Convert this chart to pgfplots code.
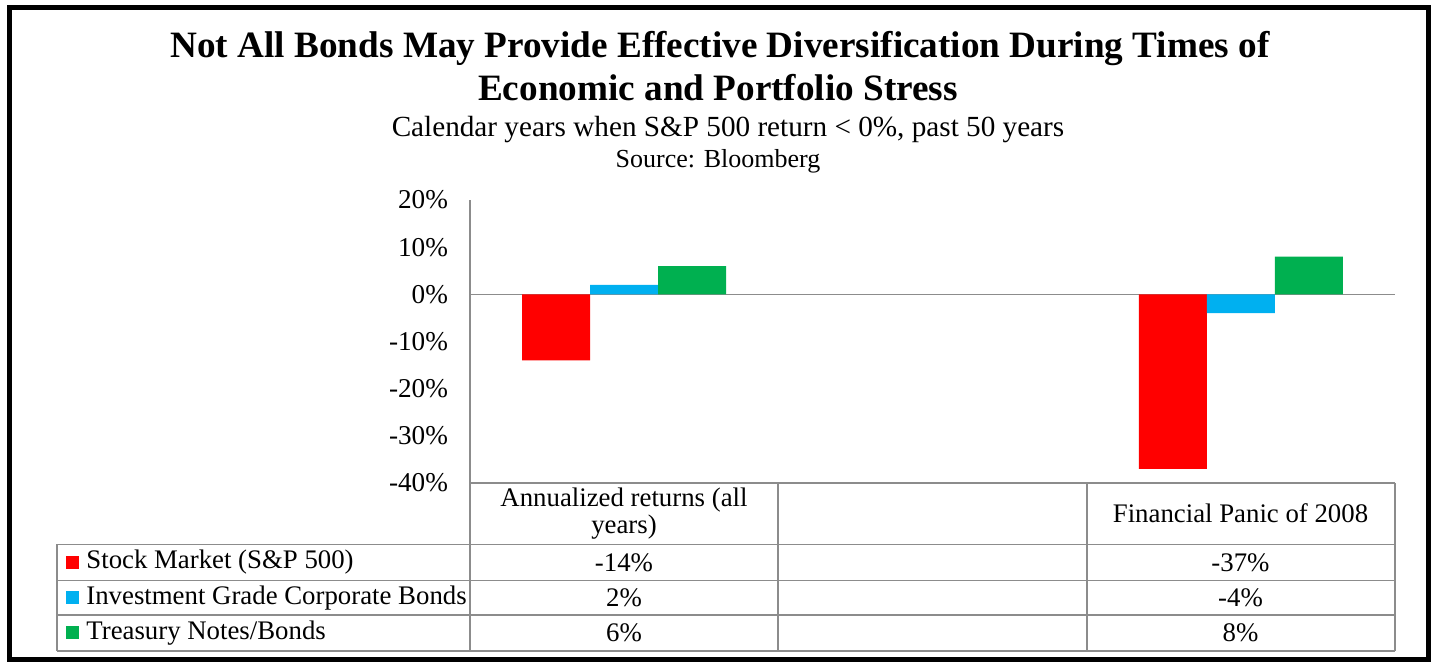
\documentclass[border=0pt]{standalone}
\usepackage{pgfplots}
\pgfplotsset{compat=1.18}
\usepackage{fontspec}
\setmainfont{Liberation Serif}
\definecolor{cred}{HTML}{FF0000}
\definecolor{cblue}{HTML}{00B0F0}
\definecolor{cgreen}{HTML}{00B050}
\definecolor{lgray}{HTML}{8C8C8C}
\begin{document}
\begin{tikzpicture}
\path[use as bounding box] (0pt,0pt) rectangle (716pt,-331.5pt);
\draw[line width=2.5pt,black] (4.9pt,-3.75pt) rectangle (714pt,-330pt);
% titles
\node[font=\fontsize{18.6}{22}\selectfont\bfseries] at (360pt,-24.5pt) {Not All Bonds May Provide Effective Diversification During Times of};
\node[font=\fontsize{18.6}{22}\selectfont\bfseries] at (359pt,-44pt) {Economic and Portfolio Stress};
\node[font=\fontsize{14.6}{17}\selectfont] at (364pt,-65pt) {Calendar years when S\&P 500 return < 0\%, past 50 years};
\node[font=\fontsize{13}{15}\selectfont] at (359pt,-80.5pt) {Source: Bloomberg};
\begin{axis}[
  at={(235pt,-100pt)}, anchor=north west,
  width=462.5pt, height=141.5pt, scale only axis,
  xmin=-0.5, xmax=2.5, ymin=-40, ymax=20,
  axis x line=middle, axis y line=left,
  axis line style={-, draw=lgray, line width=0.6pt},
  hide obscured x ticks=false, hide obscured y ticks=false,
  xtick=\empty,
  ytick={-40,-30,-20,-10,0,10,20},
  yticklabels={-40\%,-30\%,-20\%,-10\%,0\%,10\%,20\%},
  major tick length=0pt,
  yticklabel style={font=\fontsize{13.6}{15}\selectfont, xshift=-7.5pt},
  /pgf/number format/assume math mode=true,
  ybar=0pt, bar width=34pt,
  clip=false,
]
\addplot[fill=cred, draw=none] coordinates {(0,-14) (2,-37)};
\addplot[fill=cblue, draw=none] coordinates {(0,2) (2,-4)};
\addplot[fill=cgreen, draw=none] coordinates {(0,6) (2,8)};
\end{axis}
% data table
\begin{scope}[draw=lgray, line width=0.6pt]
\draw (235pt,-241.5pt) -- (697.5pt,-241.5pt);
\foreach \y in {-272.25,-290.25,-307.5,-325.5} \draw (28.5pt,\y pt) -- (697.5pt,\y pt);
\foreach \x in {235,389,543.5,697.5} \draw (\x pt,-241.5pt) -- (\x pt,-325.5pt);
\draw (28.5pt,-272.25pt) -- (28.5pt,-325.5pt);
\end{scope}
\begin{scope}[every node/.style={font=\fontsize{13.4}{13.5}\selectfont, inner sep=0pt}]
\node[align=center] at (312pt,-257pt) {Annualized returns (all\\years)};
\node at (620.25pt,-256.5pt) {Financial Panic of 2008};
\fill[cred] (33pt,-278pt) rectangle (39.5pt,-284.5pt);
\fill[cblue] (33pt,-295.6pt) rectangle (39.5pt,-302.1pt);
\fill[cgreen] (33pt,-313.2pt) rectangle (39.5pt,-319.7pt);
\node[anchor=west] at (43pt,-281.25pt) {Stock Market (S\&P 500)};
\node[anchor=west] at (43pt,-298.9pt) {Investment Grade Corporate Bonds};
\node[anchor=west] at (43pt,-316.5pt) {Treasury Notes/Bonds};
\node at (312pt,-281.25pt) {-14\%};
\node at (312pt,-298.9pt) {2\%};
\node at (312pt,-316.5pt) {6\%};
\node at (620.25pt,-281.25pt) {-37\%};
\node at (620.25pt,-298.9pt) {-4\%};
\node at (620.25pt,-316.5pt) {8\%};
\end{scope}
\end{tikzpicture}
\end{document}
